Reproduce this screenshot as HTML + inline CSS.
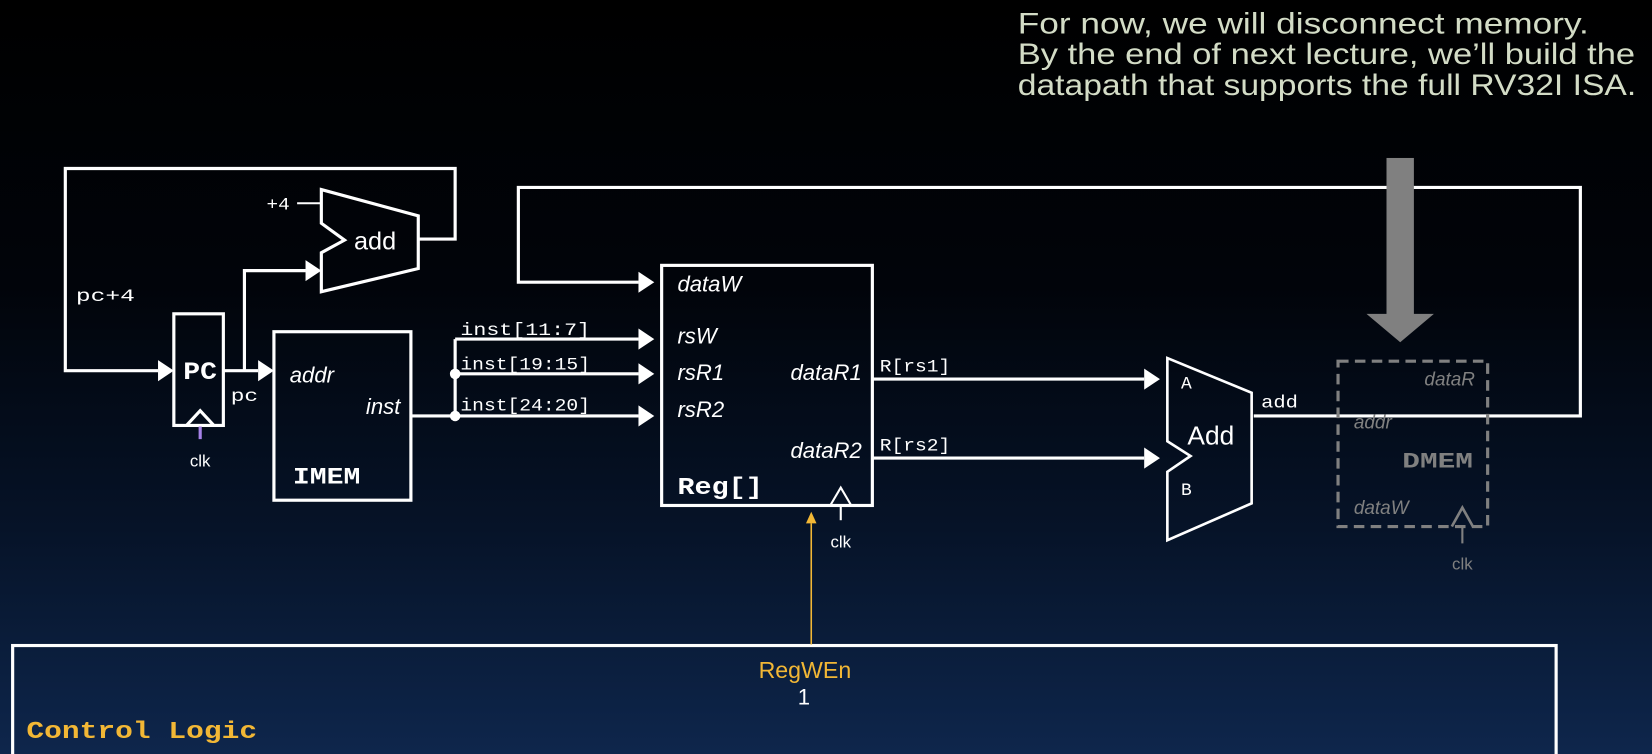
<!DOCTYPE html>
<html><head><meta charset="utf-8"><style>
html,body{margin:0;padding:0;background:#000;}
svg{display:block;}
</style></head><body>
<svg width="1652" height="754" viewBox="0 0 1568 716" preserveAspectRatio="none" xmlns="http://www.w3.org/2000/svg">
<defs>
<linearGradient id="bg" x1="0" y1="0" x2="0" y2="1">
<stop offset="0" stop-color="#000"/>
<stop offset="0.38" stop-color="#01040a"/>
<stop offset="0.7" stop-color="#061328"/>
<stop offset="1" stop-color="#0e264c"/>
</linearGradient>
</defs>
<rect width="1568" height="716" fill="url(#bg)"/>
<g font-family="Liberation Sans, sans-serif" fill="#d3dcc6" font-size="28">
<text x="966" y="32" textLength="542" lengthAdjust="spacingAndGlyphs">For now, we will disconnect memory.</text>
<text x="966" y="61" textLength="586" lengthAdjust="spacingAndGlyphs">By the end of next lecture, we’ll build the</text>
<text x="966" y="90" textLength="587" lengthAdjust="spacingAndGlyphs">datapath that supports the full RV32I ISA.</text>
</g>
<g stroke="#fff" stroke-width="3" fill="none">
<polyline points="397,227 432,227 432,160 62,160 62,352 150,352"/>
<rect x="165" y="298" width="47" height="106"/>
<polyline points="177,404 190,390 203,404"/>
<polyline points="212,352 245,352"/>
<polyline points="232,352 232,257 290,257"/>
<line x1="282" y1="193" x2="305" y2="193" stroke-width="2"/>
<polygon points="305,180 397,205 397,255 305,277 305,240 327,228 305,212"/>
<rect x="260" y="315" width="130" height="160"/>
<polyline points="390,395 432,395"/>
<polyline points="432,322 432,395"/>
<line x1="432" y1="322" x2="606" y2="322"/>
<line x1="432" y1="355" x2="606" y2="355"/>
<line x1="432" y1="395" x2="606" y2="395"/>
<rect x="628" y="252" width="200" height="228"/>
<polyline points="788,480 798,463 808,480" stroke-width="2"/>
<line x1="798" y1="480" x2="798" y2="494" stroke-width="2"/>
<polyline points="1190,395 1500,395 1500,178 492,178 492,268 606,268"/>
<line x1="828" y1="360" x2="1086" y2="360"/>
<line x1="828" y1="435" x2="1086" y2="435"/>
<polygon points="1108,340 1188,373 1188,478 1108,513 1108,448 1130,433 1108,419" stroke-width="2.5"/>
<rect x="12" y="613" width="1465" height="110"/>
</g>
<g fill="#fff">
<polygon points="150,342 165,352 150,362"/>
<polygon points="245,342 260,352 245,362"/>
<polygon points="290,247 305,257 290,267"/>
<polygon points="606,312 621,322 606,332"/>
<polygon points="606,345 621,355 606,365"/>
<polygon points="606,385 621,395 606,405"/>
<polygon points="606,258 621,268 606,278"/>
<polygon points="1086,350 1101,360 1086,370"/>
<polygon points="1086,425 1101,435 1086,445"/>
<circle cx="432" cy="355" r="5"/>
<circle cx="432" cy="395" r="5"/>
</g>
<line x1="190" y1="405" x2="190" y2="417" stroke="#a782e8" stroke-width="3"/>
<g stroke="#808080" stroke-width="3" fill="none">
<rect x="1270" y="343" width="142" height="157" stroke-dasharray="10,6"/>
<polyline points="1378,500 1388,482 1398,500" stroke-width="2.5"/>
<line x1="1388" y1="500" x2="1388" y2="516" stroke-width="2"/>
</g>
<rect x="1316" y="150" width="26" height="150" fill="#808080"/>
<polygon points="1297,298 1361,298 1329,325" fill="#808080"/>
<line x1="770" y1="612" x2="770" y2="497" stroke="#f2b735" stroke-width="1.5"/>
<polygon points="765,497 775,497 770,486" fill="#f2b735"/>
<g font-family="Liberation Mono, monospace" fill="#fff" font-size="17">
<text x="253" y="199" textLength="22" lengthAdjust="spacingAndGlyphs">+4</text>
<text x="72" y="286" textLength="56" lengthAdjust="spacingAndGlyphs">pc+4</text>
<text x="219" y="381" textLength="26" lengthAdjust="spacingAndGlyphs">pc</text>
<text x="437" y="318" textLength="123" lengthAdjust="spacingAndGlyphs">inst[11:7]</text>
<text x="437" y="351" textLength="123" lengthAdjust="spacingAndGlyphs">inst[19:15]</text>
<text x="437" y="390" textLength="123" lengthAdjust="spacingAndGlyphs">inst[24:20]</text>
<text x="835" y="353" textLength="67" lengthAdjust="spacingAndGlyphs">R[rs1]</text>
<text x="835" y="428" textLength="67" lengthAdjust="spacingAndGlyphs">R[rs2]</text>
<text x="1197" y="387" textLength="35" lengthAdjust="spacingAndGlyphs">add</text>
<text x="1121" y="369">A</text>
<text x="1121" y="470">B</text>
<text x="174" y="360" font-weight="bold" font-size="24" textLength="32" lengthAdjust="spacingAndGlyphs">PC</text>
<text x="278" y="459" font-weight="bold" font-size="22" textLength="64" lengthAdjust="spacingAndGlyphs">IMEM</text>
<text x="643" y="469" font-weight="bold" font-size="23" textLength="81" lengthAdjust="spacingAndGlyphs">Reg[]</text>
<text x="1331" y="444" font-weight="bold" font-size="21" fill="#808080" textLength="67" lengthAdjust="spacingAndGlyphs">DMEM</text>
<text x="25" y="701" font-weight="bold" font-size="23" fill="#f2b735" textLength="219" lengthAdjust="spacingAndGlyphs">Control Logic</text>
</g>
<g font-family="Liberation Sans, sans-serif" fill="#fff" font-size="21" font-style="italic">
<text x="275" y="363">addr</text>
<text x="380" y="393" text-anchor="end">inst</text>
<text x="643" y="277">dataW</text>
<text x="643" y="326">rsW</text>
<text x="643" y="361">rsR1</text>
<text x="643" y="396">rsR2</text>
<text x="818" y="361" text-anchor="end">dataR1</text>
<text x="818" y="435" text-anchor="end">dataR2</text>
<g fill="#808080" font-size="18">
<text x="1400" y="366" text-anchor="end">dataR</text>
<text x="1285" y="407">addr</text>
<text x="1285" y="488">dataW</text>
</g>
</g>
<g font-family="Liberation Sans, sans-serif" fill="#fff">
<text x="336" y="237" font-size="24">add</text>
<text x="1127" y="422" font-size="25">Add</text>
<text x="190" y="443" font-size="16" text-anchor="middle">clk</text>
<text x="798" y="520" font-size="16" text-anchor="middle">clk</text>
<text x="1388" y="541" font-size="16" text-anchor="middle" fill="#808080">clk</text>
<text x="764" y="644" font-size="22" text-anchor="middle" fill="#f2b735">RegWEn</text>
<text x="763" y="669" font-size="21" text-anchor="middle">1</text>
</g>
</svg>
</body></html>
